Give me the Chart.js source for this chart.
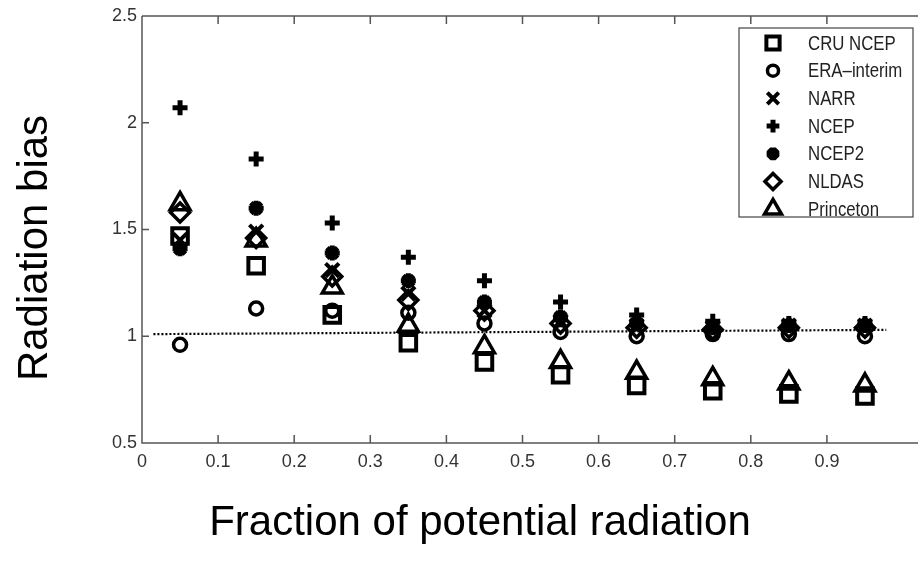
<!DOCTYPE html>
<html>
<head>
<meta charset="utf-8">
<script src="https://cdn.jsdelivr.net/npm/chart.js@4.4.1/dist/chart.umd.min.js"></script>
<style>
html, body { margin: 0; padding: 0; background: #fff; }
#wrap { width: 918px; height: 564px; position: relative; }
</style>
</head>
<body>
<div id="wrap"><canvas id="c"></canvas></div>
<script>
// x positions (bin centres)
const xs = [0.05, 0.15, 0.25, 0.35, 0.45, 0.55, 0.65, 0.75, 0.85, 0.95];

// radiation bias per product
const cruNcep    = [1.47, 1.33, 1.10, 0.97, 0.88, 0.82, 0.77, 0.745, 0.73, 0.72];
const eraInterim = [0.96, 1.13, 1.12, 1.11, 1.06, 1.02, 1.00, 1.01, 1.01, 1.00];
const narr       = [1.45, 1.49, 1.31, 1.20, 1.12, 1.07, 1.05, 1.04, 1.05, 1.05];
const ncep       = [2.07, 1.83, 1.53, 1.37, 1.26, 1.16, 1.10, 1.07, 1.06, 1.06];
const ncep2      = [1.41, 1.60, 1.39, 1.26, 1.16, 1.09, 1.06, 1.04, 1.05, 1.05];
const nldas      = [1.58, 1.46, 1.28, 1.17, 1.12, 1.06, 1.04, 1.03, 1.04, 1.04];
const princeton  = [1.62, 1.45, 1.23, 1.05, 0.95, 0.88, 0.83, 0.80, 0.78, 0.77];

// dotted reference line
const refX = [0.015, 0.978];
const refY = [1.01, 1.03];

const xTicks = [0, 0.1, 0.2, 0.3, 0.4, 0.5, 0.6, 0.7, 0.8, 0.9];
const xTickLabels = ['0', '0.1', '0.2', '0.3', '0.4', '0.5', '0.6', '0.7', '0.8', '0.9'];
const yTicks = [0.5, 1, 1.5, 2, 2.5];
const yTickLabels = ['0.5', '1', '1.5', '2', '2.5'];

const xTitle = 'Fraction of potential radiation';
const yTitle = 'Radiation bias';

const series = [
    { label: 'CRU NCEP',    data: cruNcep,    style: 'rect',     r: 11,  bw: 4,   fill: false },
    { label: 'ERA\u2013interim', data: eraInterim, style: 'circle', r: 6.5, bw: 3.5, fill: false },
    { label: 'NARR',        data: narr,       style: 'crossRot', r: 9.5, bw: 4,   fill: false },
    { label: 'NCEP',        data: ncep,       style: 'cross',    r: 7.5, bw: 5,   fill: false },
    { label: 'NCEP2',       data: ncep2,      style: 'star',     r: 7.5, bw: 5,   fill: true },
    { label: 'NLDAS',       data: nldas,      style: 'rectRot',  r: 9.5, bw: 3.5, fill: false },
    { label: 'Princeton',   data: princeton,  style: 'triangle', r: 11.5, bw: 3.5, fill: false }
];

const datasets = series.map((s, i) => ({
    label: s.label,
    data: xs.map((x, j) => ({ x: x, y: s.data[j] })),
    pointStyle: s.style,
    pointRadius: s.r,
    pointHoverRadius: s.r,
    pointBorderWidth: s.bw,
    pointBorderColor: '#000',
    pointBackgroundColor: s.fill ? '#000' : 'rgba(0,0,0,0)',
    showLine: false,
    order: series.length - i
}));

datasets.push({
    label: 'ref',
    data: refX.map((x, j) => ({ x: x, y: refY[j] })),
    showLine: true,
    borderColor: '#000',
    borderWidth: 2.2,
    borderDash: [2, 2],
    pointRadius: 0,
    order: 20
});

const frame = {
    id: 'frame',
    afterDraw(chart) {
        const { ctx, chartArea: a, scales: { x, y } } = chart;
        ctx.save();
        ctx.strokeStyle = '#555';
        ctx.lineWidth = 1.5;
        ctx.beginPath();
        ctx.moveTo(a.left, a.top); ctx.lineTo(918, a.top);
        ctx.moveTo(a.left, a.top); ctx.lineTo(a.left, a.bottom); ctx.lineTo(918, a.bottom);
        xTicks.forEach(v => {
            const px = x.getPixelForValue(v);
            if (v > 0) {
                ctx.moveTo(px, a.bottom); ctx.lineTo(px, a.bottom - 8);
                ctx.moveTo(px, a.top); ctx.lineTo(px, a.top + 8);
            }
        });
        yTicks.forEach(v => {
            const py = y.getPixelForValue(v);
            ctx.moveTo(a.left, py); ctx.lineTo(a.left + 7, py);
        });
        ctx.stroke();

        // legend box
        const lx = 739, ly = 28, lw = 174, lh = 189;
        ctx.fillStyle = '#fff';
        ctx.fillRect(lx, ly, lw, lh);
        ctx.strokeStyle = '#444';
        ctx.lineWidth = 1.2;
        ctx.strokeRect(lx, ly, lw, lh);
        series.forEach((s, i) => {
            const ry = 43 + i * 27.7;
            ctx.strokeStyle = '#000';
            ctx.fillStyle = s.fill ? '#000' : 'rgba(0,0,0,0)';
            ctx.lineWidth = s.bw;
            Chart.helpers.drawPoint(ctx, { pointStyle: s.style, radius: s.r * 0.85, borderWidth: s.bw, rotation: 0 }, 773, ry);
            ctx.save();
            ctx.fillStyle = '#222';
            ctx.font = '20px "Liberation Sans", Arial, sans-serif';
            ctx.textAlign = 'left';
            ctx.textBaseline = 'middle';
            ctx.translate(808, ry + 1);
            ctx.scale(0.84, 1);
            ctx.fillText(s.label, 0, 0);
            ctx.restore();
        });

        // axis titles
        ctx.fillStyle = '#000';
        ctx.font = '42px "Liberation Sans", Arial, sans-serif';
        ctx.textAlign = 'center';
        ctx.textBaseline = 'middle';
        ctx.fillText(xTitle, 480, 523);
        ctx.translate(35, 248);
        ctx.rotate(-Math.PI / 2);
        ctx.fillText(yTitle, 0, 0);
        ctx.restore();
    }
};

const tickFont = { family: '"Liberation Sans", Arial, sans-serif', size: 18 };

new Chart(document.getElementById('c'), {
    type: 'scatter',
    data: { datasets: datasets },
    options: {
        responsive: true,
        maintainAspectRatio: false,
        animation: false,
        layout: { padding: { top: 16, right: 0, left: 0, bottom: 0 } },
        plugins: { legend: { display: false }, tooltip: { enabled: false } },
        scales: {
            x: {
                type: 'linear', min: 0, max: 1,
                afterFit: s => { s.height = 121; },
                afterBuildTicks: s => { s.ticks = xTicks.map(v => ({ value: v })); },
                grid: { display: false, drawTicks: false },
                border: { display: false },
                ticks: { color: '#333', font: tickFont, padding: 8, maxRotation: 0, autoSkip: false,
                         callback: (v, i) => xTickLabels[i] }
            },
            y: {
                type: 'linear', min: 0.5, max: 2.5,
                afterFit: s => { s.width = 142; },
                afterBuildTicks: s => { s.ticks = yTicks.map(v => ({ value: v })); },
                grid: { display: false, drawTicks: false },
                border: { display: false },
                ticks: { color: '#333', font: tickFont, padding: 5, autoSkip: false,
                         callback: (v, i) => yTickLabels[i] }
            }
        }
    },
    plugins: [frame]
});
</script>
</body>
</html>
